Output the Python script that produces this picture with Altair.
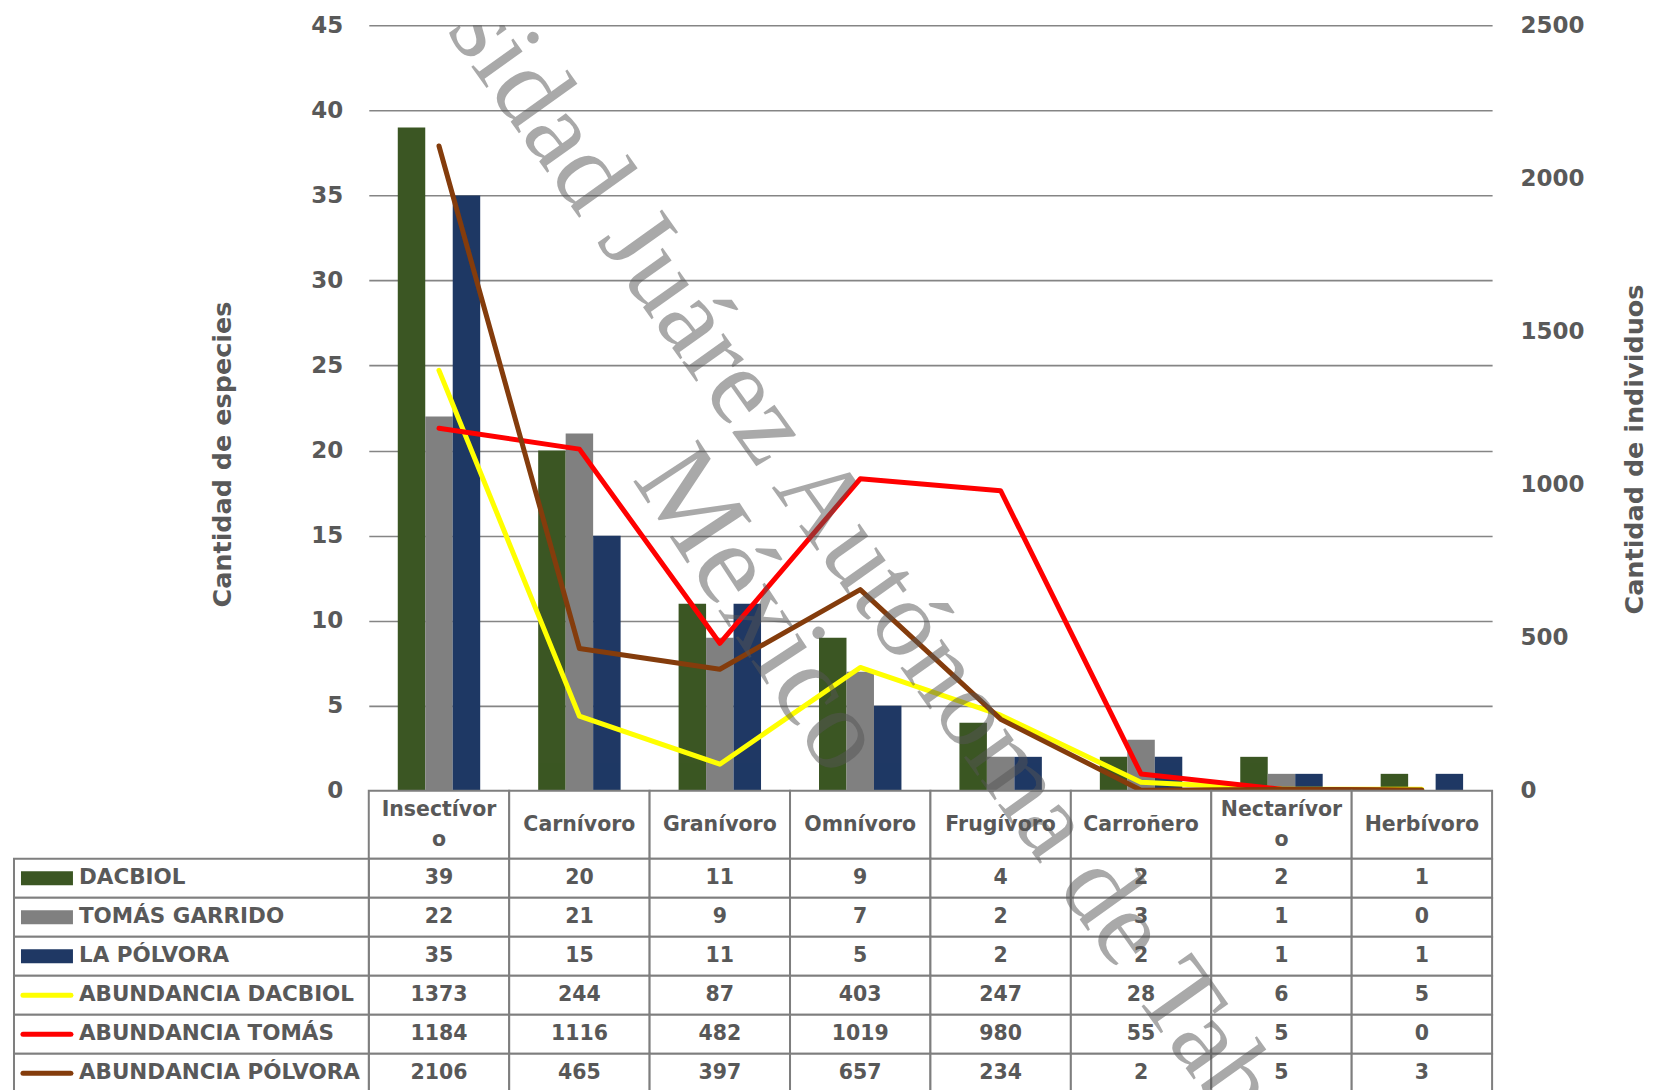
import altair as alt
import pandas as pd

# ---------------- data ----------------
categories = ["Insectívoro", "Carnívoro", "Granívoro", "Omnívoro",
              "Frugívoro", "Carroñero", "Nectarívoro", "Herbívoro"]
header_labels = ["Insectívor\no", "Carnívoro", "Granívoro", "Omnívoro",
                 "Frugívoro", "Carroñero", "Nectarívor\no", "Herbívoro"]

bar_series = ["DACBIOL", "TOMÁS GARRIDO", "LA PÓLVORA"]
dacbiol = [39, 20, 11, 9, 4, 2, 2, 1]
tomas_garrido = [22, 21, 9, 7, 2, 3, 1, 0]
la_polvora = [35, 15, 11, 5, 2, 2, 1, 1]

line_series = ["ABUNDANCIA DACBIOL", "ABUNDANCIA TOMÁS", "ABUNDANCIA PÓLVORA"]
abund_dacbiol = [1373, 244, 87, 403, 247, 28, 6, 5]
abund_tomas = [1184, 1116, 482, 1019, 980, 55, 5, 0]
abund_polvora = [2106, 465, 397, 657, 234, 2, 5, 3]

bar_colors = ["#3B5623", "#808080", "#1F3864"]
line_colors = ["#FFFF00", "#FF0000", "#843C0C"]

left_ticks = [0, 5, 10, 15, 20, 25, 30, 35, 40, 45]
right_ticks = [0, 500, 1000, 1500, 2000, 2500]

left_title = "Cantidad de especies"
right_title = "Cantidad de individuos"
# visible part of the diagonal watermark (its start runs off the top of the page)
watermark_text = "sidad Juárez Autónoma de Tabasco"
watermark_text2 = "México"

# ---------------- frames ----------------
all_series = bar_series + line_series
all_colors = bar_colors + line_colors
bar_vals = [dacbiol, tomas_garrido, la_polvora]
line_vals = [abund_dacbiol, abund_tomas, abund_polvora]

bars_df = pd.DataFrame([
    {"cat": c, "series": s, "value": v[i], "idx": i}
    for s, v in zip(bar_series, bar_vals) for i, c in enumerate(categories)
])
lines_df = pd.DataFrame([
    {"cat": c, "series": s, "value": v[i], "idx": i}
    for s, v in zip(line_series, line_vals) for i, c in enumerate(categories)
])
table_df = pd.concat([bars_df, lines_df], ignore_index=True)

TXT = "#595959"
GRID = "#858585"
BORDER = "#7F7F7F"
W = 1124

color = alt.Color("series:N", scale=alt.Scale(domain=all_series, range=all_colors), legend=None)

def xenc():
    return alt.X("cat:N", scale=alt.Scale(domain=categories, paddingInner=0, paddingOuter=0), axis=None)

def watermark(ox, oy):
    d = pd.DataFrame({"t": [watermark_text]})
    d2 = pd.DataFrame({"t": [watermark_text2]})
    w1 = alt.Chart(d).mark_text(
        font="Liberation Serif", fontSize=110, angle=54.5, align="center", baseline="middle",
        color="#555555", opacity=0.5, clip=True
    ).encode(text="t:N", x=alt.value(920 - ox), y=alt.value(638 - oy))
    w2 = alt.Chart(d2).mark_text(
        font="Liberation Serif", fontSize=118, angle=56.7, align="center", baseline="middle",
        color="#555555", opacity=0.5, clip=True
    ).encode(text="t:N", x=alt.value(760 - ox), y=alt.value(610 - oy))
    return [w1, w2]

# ---------------- main plot ----------------
offset_domain = ["_left"] + bar_series + ["_right"]
bars = alt.Chart(bars_df).mark_bar().encode(
    x=xenc(),
    xOffset=alt.XOffset("series:N", scale=alt.Scale(domain=offset_domain, paddingInner=0, paddingOuter=0.055)),
    y=alt.Y("value:Q",
            scale=alt.Scale(domain=[0, 45], nice=False, zero=True),
            axis=alt.Axis(values=left_ticks, title=left_title, grid=True, gridColor=GRID, gridWidth=1.6,
                          ticks=False, domain=False, format="d",
                          labelFont="DejaVu Sans", labelFontSize=23, labelFontWeight="bold",
                          labelColor=TXT, labelPadding=26,
                          titleFont="DejaVu Sans", titleFontSize=25.5, titleFontWeight="bold",
                          titleColor=TXT, titleAngle=270, titleX=-146, titleY=429,
                          titleBaseline="middle", titleAlign="center")),
    color=color,
)

lines = alt.Chart(lines_df).mark_line(strokeWidth=5, strokeCap="round", strokeJoin="round").encode(
    x=xenc(),
    y=alt.Y("value:Q",
            scale=alt.Scale(domain=[0, 2500], nice=False, zero=True),
            axis=alt.Axis(orient="right", values=right_ticks, title=right_title, grid=False,
                          ticks=False, domain=False, format="d",
                          labelFont="DejaVu Sans", labelFontSize=23, labelFontWeight="bold",
                          labelColor=TXT, labelPadding=28,
                          titleFont="DejaVu Sans", titleFontSize=25.5, titleFontWeight="bold",
                          titleColor=TXT, titleAngle=270, titleX=142, titleY=424,
                          titleBaseline="middle", titleAlign="center")),
    color=color,
    order=alt.Order("idx:Q"),
)

main = alt.layer(bars, lines, *watermark(369, 25)).resolve_scale(y="independent").properties(
    width=W, height=766)

# ---------------- header row ----------------
header_df = pd.DataFrame({"cat": categories, "label": header_labels})
hcells = alt.Chart(header_df).mark_rect(fill="white", stroke=BORDER, strokeWidth=2).encode(x=xenc())
htext_style = dict(lineBreak="\n", font="DejaVu Sans", fontWeight="bold", fontSize=20.5, color=TXT,
                   lineHeight=30, baseline="middle")
htext1 = alt.Chart(header_df).transform_filter(
    "indexof(datum.label, '\\n') < 0"
).mark_text(**htext_style).encode(x=xenc(), y=alt.value(34), text="label:N")
htext2 = alt.Chart(header_df).transform_filter(
    "indexof(datum.label, '\\n') >= 0"
).mark_text(**htext_style).encode(x=xenc(), y=alt.value(19), text="label:N")
header = alt.layer(hcells, htext1, htext2, *watermark(369, 791)).properties(width=W, height=68)

# ---------------- table body ----------------
yenc = alt.Y("series:N", scale=alt.Scale(domain=all_series, paddingInner=0, paddingOuter=0), axis=None)
yc = alt.Y("series:N", scale=alt.Scale(domain=all_series, paddingInner=0, paddingOuter=0),
           axis=None, bandPosition=0.5)

cells = alt.Chart(table_df).mark_rect(fill="white", stroke=BORDER, strokeWidth=2).encode(x=xenc(), y=yenc)
values = alt.Chart(table_df).mark_text(
    font="DejaVu Sans", fontWeight="bold", fontSize=20.5, color=TXT, baseline="middle"
).encode(x=xenc(), y=yc, text="value:Q")

series_df = pd.DataFrame({"series": all_series})
bar_sw_df = pd.DataFrame({"series": bar_series})
line_sw_df = pd.DataFrame({"series": line_series})

label_cells = alt.Chart(series_df).mark_rect(fill="white", stroke=BORDER, strokeWidth=2).encode(
    x=alt.value(-355), x2=alt.value(0), y=yenc)
bar_sw = alt.Chart(bar_sw_df).mark_rule(strokeWidth=14, strokeCap="butt").encode(
    x=alt.value(-348), x2=alt.value(-296), y=yc, color=color)
line_sw = alt.Chart(line_sw_df).mark_rule(strokeWidth=5, strokeCap="round").encode(
    x=alt.value(-346), x2=alt.value(-298), y=yc, color=color)
labels = alt.Chart(series_df).mark_text(
    font="DejaVu Sans", fontWeight="bold", fontSize=21.5, color=TXT, align="left", baseline="middle"
).encode(x=alt.value(-290), y=yc, text="series:N")

body = alt.layer(cells, values, label_cells, bar_sw, line_sw, labels, *watermark(369, 859)).properties(
    width=W, height=234)

chart = alt.vconcat(main, header, body, spacing=0, bounds="flush").properties(
    padding={"left": 5, "top": 6, "right": 0, "bottom": 0}
).configure_view(stroke=None)

chart.save("out.html", embed_options={"renderer": "svg", "actions": False})
